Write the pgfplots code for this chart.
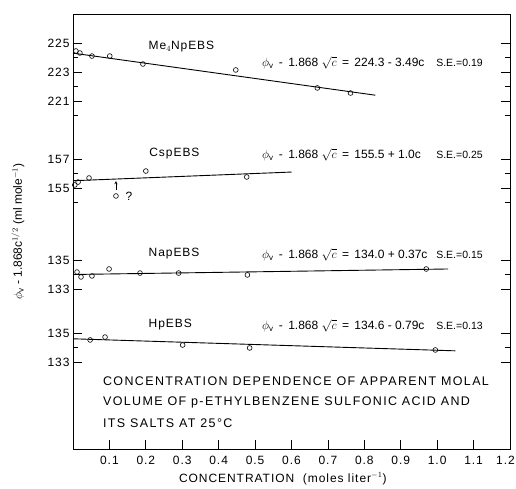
\documentclass[border=0pt]{standalone}
\usepackage{pgfplots}
\pgfplotsset{compat=1.18}
\usepackage{fontspec}
\setmainfont{Liberation Sans}
\newcommand{\lbl}{\fontsize{12}{14}\selectfont}
\newcommand{\sel}{\fontsize{10.5}{12}\selectfont}
\newcommand{\tkl}{\fontsize{12}{14}\selectfont\addfontfeatures{LetterSpace=8}}
\newcommand{\captxt}{\fontsize{12.5}{15}\selectfont\addfontfeatures{LetterSpace=11}}
\begin{document}
\begin{tikzpicture}
\path[use as bounding box] (-73pt,-40pt) rectangle (443pt,449pt);
\begin{axis}[
  at={(0,0)}, anchor=south west,
  scale only axis, width=437pt, height=435pt,
  xmin=0, xmax=1.2, ymin=40, ymax=475,
  axis line style={line width=0.8pt},
  tick style={black, line width=0.7pt},
  major tick length=9pt, minor tick length=5pt,
  tick align=inside,
  xtick={0.1,0.2,0.3,0.4,0.5,0.6,0.7,0.8,0.9,1.0,1.1,1.2},
  xticklabels={0.1,0.2,0.3,0.4,0.5,0.6,0.7,0.8,0.9,1.0,1.1,\hspace*{-9pt}1.2},
  xtick pos=bottom,
  ytick={446,417,388,330,301,229,200,156,127},
  yticklabels={225,223,221,157,155,135,133,135,133},
  minor ytick={431.5,402.5,373.5,315.5,286.5,214.5,141.5},
  ytick pos=both, yticklabel pos=left,
  /pgf/number format/assume math mode=true,
  ticklabel style={font=\tkl},
  xticklabel style={yshift=-4pt},
  xlabel={CONCENTRATION\ \ (moles liter$^{-1}$)},
  xlabel style={font=\tkl, at={(axis description cs:0.48,-0.068)}, anchor=center},
  ylabel={$\phi_{\mathrm{v}}$ - 1.868c$^{1/2}$ (ml mole$^{-1}$)},
  ylabel style={font=\lbl, at={(axis description cs:-0.126,0.50)}, anchor=center},
  clip=false,
]
% Me4NpEBS
\addplot[black, line width=0.9pt, y filter/.expression={14.5*y-2816.5}] coordinates {(0,224.3) (0.83,221.4)};
\addplot[only marks, mark=o, mark size=2.4pt, mark options={line width=0.6pt, fill=white}, y filter/.expression={14.5*y-2816.5}] coordinates {
(0.008,224.45) (0.019,224.31) (0.052,224.10) (0.101,224.10) (0.192,223.55) (0.447,223.14) (0.671,221.9) (0.762,221.55)};
% CspEBS
\addplot[black, line width=0.9pt, y filter/.expression={14.5*y-1946.5}] coordinates {(0,155.5) (0.60,156.1)};
\addplot[only marks, mark=o, mark size=2.4pt, mark options={line width=0.6pt, fill=white}, y filter/.expression={14.5*y-1946.5}] coordinates {
(0.005,155.21) (0.014,155.41) (0.044,155.69) (0.200,156.17) (0.118,154.45) (0.477,155.76)};
% NapEBS
\addplot[black, line width=0.9pt, y filter/.expression={14.5*y-1728.5}] coordinates {(0,134.0) (1.03,134.38)};
\addplot[only marks, mark=o, mark size=2.4pt, mark options={line width=0.6pt, fill=white}, y filter/.expression={14.5*y-1728.5}] coordinates {
(0.011,134.17) (0.022,133.83) (0.052,133.90) (0.099,134.38) (0.184,134.10) (0.29,134.10) (0.479,133.97) (0.97,134.38)};
% HpEBS
\addplot[black, line width=0.9pt, y filter/.expression={14.5*y-1801.5}] coordinates {(0,134.6) (1.05,133.77)};
\addplot[only marks, mark=o, mark size=2.4pt, mark options={line width=0.6pt, fill=white}, y filter/.expression={14.5*y-1801.5}] coordinates {
(0.047,134.52) (0.088,134.72) (0.301,134.17) (0.485,133.97) (0.995,133.83)};
% annotations
\draw[->, >=stealth, line width=0.5pt] (axis cs:0.118,299) -- (axis cs:0.118,308);
\node[font=\lbl, anchor=west] at (axis cs:0.135,293) {?};
\node[font=\tkl, anchor=west] at (axis cs:0.198,442) {Me$_4$NpEBS};
\node[font=\lbl, anchor=west, inner sep=0pt] at (axis cs:0.519,426) {$\phi_{\mathrm{v}}$ \,-\, 1.868 $\sqrt{c}$ \,=\, 224.3 - 3.49c};
\node[font=\sel, anchor=west, inner sep=0pt] at (axis cs:0.997,426) {S.E.=0.19};
\node[font=\tkl, anchor=west] at (axis cs:0.200,335) {CspEBS};
\node[font=\lbl, anchor=west, inner sep=0pt] at (axis cs:0.519,334) {$\phi_{\mathrm{v}}$ \,-\, 1.868 $\sqrt{c}$ \,=\, 155.5 + 1.0c};
\node[font=\sel, anchor=west, inner sep=0pt] at (axis cs:0.997,334) {S.E.=0.25};
\node[font=\tkl, anchor=west] at (axis cs:0.198,235) {NapEBS};
\node[font=\lbl, anchor=west, inner sep=0pt] at (axis cs:0.519,234) {$\phi_{\mathrm{v}}$ \,-\, 1.868 $\sqrt{c}$ \,=\, 134.0 + 0.37c};
\node[font=\sel, anchor=west, inner sep=0pt] at (axis cs:0.997,234) {S.E.=0.15};
\node[font=\tkl, anchor=west] at (axis cs:0.198,164) {HpEBS};
\node[font=\lbl, anchor=west, inner sep=0pt] at (axis cs:0.519,163) {$\phi_{\mathrm{v}}$ \,-\, 1.868 $\sqrt{c}$ \,=\, 134.6 - 0.79c};
\node[font=\sel, anchor=west, inner sep=0pt] at (axis cs:0.997,163) {S.E.=0.13};
\node[font=\captxt, anchor=west, inner sep=0pt] at (axis cs:0.082,108) {CONCENTRATION DEPENDENCE OF APPARENT MOLAL};
\node[font=\captxt, anchor=west, inner sep=0pt] at (axis cs:0.082,87) {VOLUME OF p-ETHYLBENZENE SULFONIC ACID AND};
\node[font=\captxt, anchor=west, inner sep=0pt] at (axis cs:0.082,66) {ITS SALTS AT 25°C};
\end{axis}
\end{tikzpicture}
\end{document}
